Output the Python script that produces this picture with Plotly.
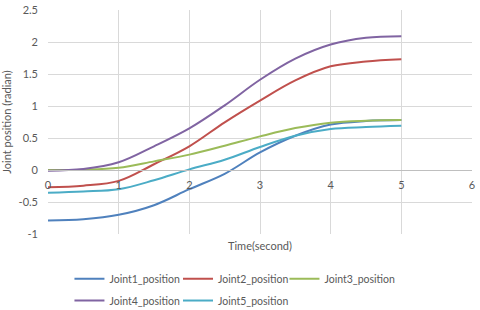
import plotly.graph_objects as go

time_s = [0, 0.5, 1, 1.5, 2, 2.5, 3, 3.5, 4, 4.5, 5]
joint1 = [-0.79, -0.77, -0.70, -0.55, -0.30, -0.06, 0.275, 0.535, 0.71, 0.765, 0.78]
joint2 = [-0.27, -0.245, -0.17, 0.09, 0.37, 0.745, 1.085, 1.40, 1.62, 1.695, 1.73]
joint3 = [0.0, 0.005, 0.035, 0.135, 0.24, 0.38, 0.525, 0.655, 0.74, 0.77, 0.78]
joint4 = [-0.01, 0.015, 0.12, 0.37, 0.65, 1.01, 1.41, 1.74, 1.96, 2.065, 2.09]
joint5 = [-0.355, -0.335, -0.30, -0.16, 0.01, 0.16, 0.36, 0.535, 0.64, 0.67, 0.69]

names = ["Joint1_position", "Joint2_position", "Joint3_position", "Joint4_position", "Joint5_position"]
series = [joint1, joint2, joint3, joint4, joint5]
colors = ["#4F81BD", "#C0504D", "#9BBB59", "#8064A2", "#4BACC6"]
legend_ids = ["legend", "legend2", "legend3", "legend4", "legend5"]

x_ticks = [0, 1, 2, 3, 4, 5, 6]
y_ticks = [-1, -0.5, 0, 0.5, 1, 1.5, 2, 2.5]
y_ticklabels = ["-1", "-0.5", "0", "0.5", "1", "1.5", "2", "2.5"]

FONT = "Lato"
TXT = "#595959"
GRID = "#d9d9d9"

fig = go.Figure()
for n, s, c, lg in zip(names, series, colors, legend_ids):
    fig.add_trace(go.Scatter(x=time_s, y=s, name=n, mode="lines", showlegend=True,
                             line=dict(color=c, width=2, shape="spline", smoothing=1.0),
                             legend=lg))

# legend entry placement (paper coords): three in the first row, two in the second
leg_x = [0.0506, 0.3066, 0.5577, 0.0506, 0.3066]
leg_y = [-0.20, -0.20, -0.20, -0.297, -0.297]
legend_layout = {}
for lg, lx, ly in zip(legend_ids, leg_x, leg_y):
    legend_layout[lg] = dict(orientation="h", x=lx, xanchor="left", y=ly, yanchor="middle",
                             font=dict(size=10.5, color=TXT), itemwidth=30,
                             bgcolor="rgba(0,0,0,0)", visible=True)

fig.update_layout(
    width=480, height=310,
    showlegend=True,
    margin=dict(l=47.5, r=8, t=10, b=76, autoexpand=False),
    paper_bgcolor="white", plot_bgcolor="white",
    font=dict(family=FONT, size=11, color=TXT),
    xaxis=dict(range=[0, 6], tickvals=x_ticks, showgrid=True, gridcolor=GRID, gridwidth=1,
               zeroline=False, showline=True, linecolor="#bfbfbf", linewidth=1,
               anchor="free", position=1/3.5, ticks="", automargin=False,
               ticklabelstandoff=5, ticklabeloverflow="allow",
               tickfont=dict(size=11, color=TXT)),
    yaxis=dict(range=[-1, 2.5], tickvals=y_ticks, ticktext=y_ticklabels, showgrid=True,
               gridcolor=GRID, gridwidth=1, zeroline=False, showline=False, ticks="",
               automargin=False, ticklabelstandoff=9, ticklabeloverflow="allow",
               title=dict(text="Joint position (radian)", font=dict(size=11, color=TXT), standoff=4),
               tickfont=dict(size=11, color=TXT)),
    annotations=[dict(text="Time(second)", x=0.5, xref="paper", y=-0.05, yref="paper",
                      showarrow=False, xanchor="center", yanchor="middle",
                      font=dict(size=11, color=TXT))],
    **legend_layout,
)

fig.write_html("out.html", config={"displayModeBar": False},
               post_script="document.body.style.margin='0';")
